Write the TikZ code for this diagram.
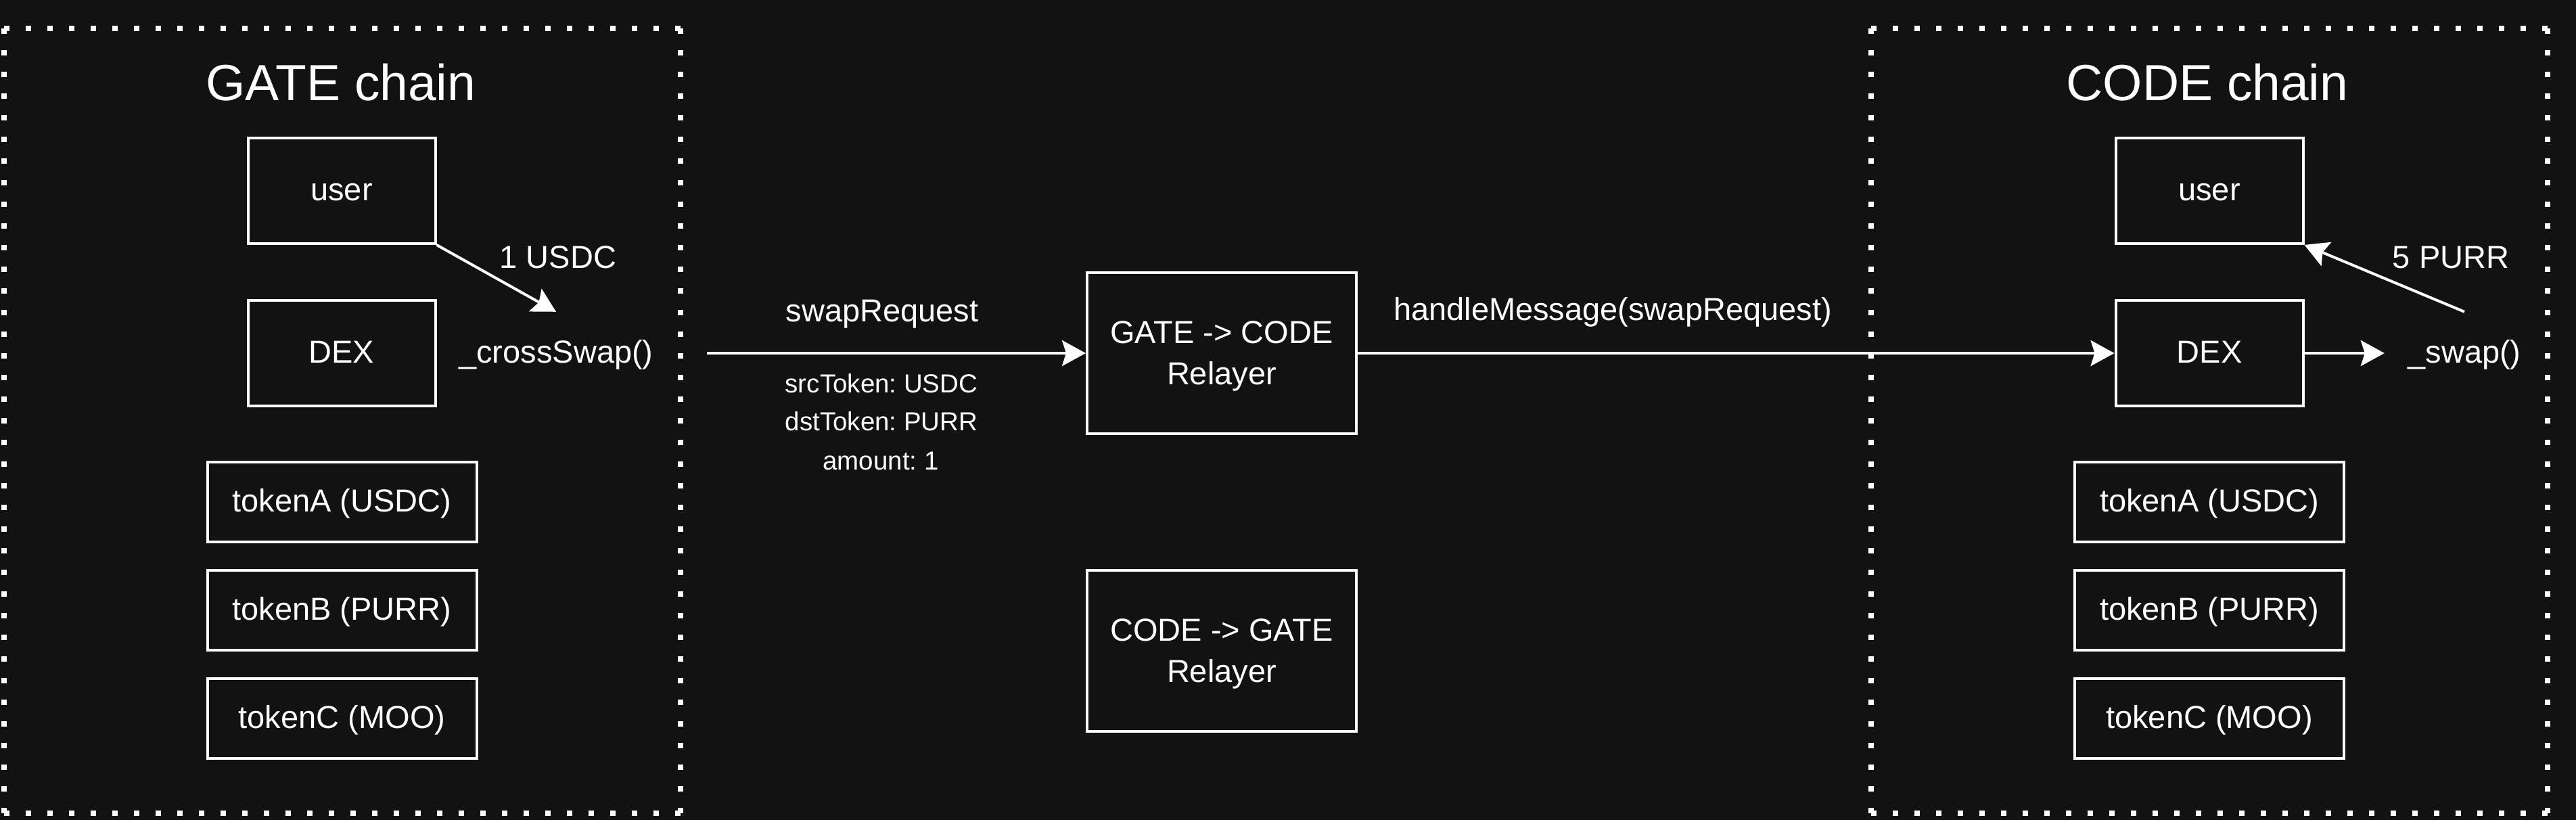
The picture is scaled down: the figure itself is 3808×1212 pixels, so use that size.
\documentclass[tikz,border=0pt]{standalone}
\usepackage{fontspec}
\setmainfont{Liberation Sans}
\usetikzlibrary{arrows.meta}
\definecolor{bgc}{HTML}{121212}
\frenchspacing
\begin{document}
\begin{tikzpicture}[x=1pt,y=-1pt,
  every node/.style={text=white},
  box/.style={draw=white, line width=4pt, inner sep=0pt,
    font=\fontsize{47}{56}\selectfont, text height=34pt, text depth=6pt},
  ubox/.style={box, minimum width=277pt, minimum height=156pt},
  tbox/.style={box, minimum width=398pt, minimum height=118pt},
  rbox/.style={draw=white, line width=4pt, inner sep=0pt, align=center,
    font=\fontsize{47}{60.5}\selectfont, minimum width=398pt, minimum height=238pt},
  plain/.style={inner sep=0pt, font=\fontsize{47}{56}\selectfont, text height=34pt, text depth=6pt},
  elbl/.style={inner sep=0pt, anchor=base, font=\fontsize{47}{56}\selectfont},
  small/.style={inner sep=0pt, anchor=base, font=\fontsize{38.5}{46}\selectfont},
  title/.style={inner sep=0pt, anchor=base, font=\fontsize{75}{88}\selectfont},
  frame/.style={draw=none, inner sep=0pt, minimum width=1000pt, minimum height=1160pt},
  dotline/.style={draw=white, line width=8pt, line cap=butt, dash pattern=on 8pt off 24pt},
  arr/.style={draw=white, line width=4pt, -{Stealth[length=35pt,width=38pt,inset=6pt]}}
]
\fill[bgc] (0,0) rectangle (3808,1212);
\useasboundingbox (0,0) rectangle (3808,1212);

% frames
\node[frame] (gateframe) at (506,622) {};
\node[frame] (codeframe) at (3266,622) {};
\foreach \f in {gateframe,codeframe}{
  \draw[dotline] (\f.north west) -- (\f.north east);
  \draw[dotline] (\f.north east) -- (\f.south east);
  \draw[dotline] (\f.south east) -- (\f.south west);
  \draw[dotline] (\f.south west) -- (\f.north west);
}

% GATE chain
\node[title] (gtitle) at (504,148) {GATE chain};
\node[ubox] (guser) at (505,282) {user};
\node[ubox] (gdex) at (505,522) {DEX};
\node[tbox] (gA) at (505.5,742) {tokenA (USDC)};
\node[tbox] (gB) at (505.5,902) {tokenB (PURR)};
\node[tbox] (gC) at (505.5,1062) {tokenC (MOO)};
\node[plain, minimum width=446pt, minimum height=122pt] (cs) at (822,522) {\_crossSwap()};
\node[elbl] (usdc) at (825,396) {1 USDC};

% relayers
\node[rbox] (grel) at (1806,522) {\rule{0pt}{42pt}GATE -> CODE\\Relayer};
\node[rbox] (crel) at (1806,962) {\rule{0pt}{42pt}CODE -> GATE\\Relayer};

% labels
\node[elbl] (sreq) at (1304,475) {swapRequest};
\node[small] (p1) at (1303,580) {srcToken: USDC};
\node[small] (p2) at (1303,636) {dstToken: PURR};
\node[small] (p3) at (1302,694) {amount: 1};
\node[elbl] (hmsg) at (2384,473) {handleMessage(swapRequest)};

% CODE chain
\node[title] (ctitle) at (3263,148) {CODE chain};
\node[ubox] (cuser) at (3266,282) {user};
\node[ubox] (cdex) at (3266,522) {DEX};
\node[tbox] (cA) at (3266,742) {tokenA (USDC)};
\node[tbox] (cB) at (3266,902) {tokenB (PURR)};
\node[tbox] (cC) at (3266,1062) {tokenC (MOO)};
\node[plain, minimum width=236pt, minimum height=122pt] (sw) at (3643,522) {\_swap()};
\node[elbl] (purr) at (3623,396) {5 PURR};

% connectors
\draw[arr] (guser.south east) -- (cs.north);
\draw[arr] (cs.east) -- (grel.west);
\draw[arr] (grel.east) -- (cdex.west);
\draw[arr] (cdex.east) -- (sw.west);
\draw[arr] (sw.north) -- (cuser.south east);
\end{tikzpicture}
\end{document}
